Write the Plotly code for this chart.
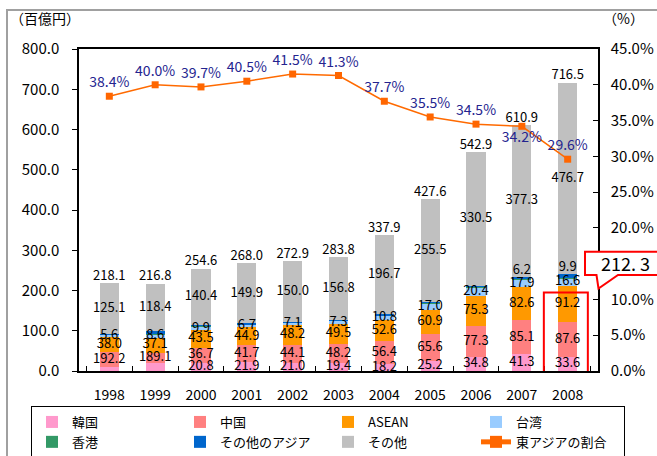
import plotly.graph_objects as go

years = ["1998", "1999", "2000", "2001", "2002", "2003", "2004", "2005", "2006", "2007", "2008"]
korea = [10.0, 20.6, 20.8, 21.9, 21.0, 19.4, 18.2, 25.2, 34.8, 41.3, 33.6]
china = [36.0, 24.9, 36.7, 41.7, 44.1, 48.2, 56.4, 65.6, 77.3, 85.1, 87.6]
asean = [38.0, 37.1, 43.5, 44.9, 48.2, 49.5, 52.6, 60.9, 75.3, 82.6, 91.2]
taiwan = [5.6, 8.6, 9.9, 6.7, 7.1, 7.3, 10.8, 17.0, 20.4, 17.9, 16.6]
hongkong = [0.9, 1.2, 1.0, 0.8, 0.7, 0.8, 1.0, 0.9, 2.0, 0.5, 0.9]
other_asia = [2.5, 6.0, 2.3, 2.1, 1.8, 1.8, 2.2, 2.5, 2.6, 6.2, 9.9]
other = [125.1, 118.4, 140.4, 149.9, 150.0, 156.8, 196.7, 255.5, 330.5, 377.3, 476.7]
totals = [218.1, 216.8, 254.6, 268.0, 272.9, 283.8, 337.9, 427.6, 542.9, 610.9, 716.5]
share_pct = [38.4, 40.0, 39.7, 40.5, 41.5, 41.3, 37.7, 35.5, 34.5, 34.2, 29.6]

korea_labels = ["", "", "20.8", "21.9", "21.0", "19.4", "18.2", "25.2", "34.8", "41.3", "33.6"]
china_labels = ["192.2", "189.1", "36.7", "41.7", "44.1", "48.2", "56.4", "65.6", "77.3", "85.1", "87.6"]
asean_labels = ["38.0", "37.1", "43.5", "44.9", "48.2", "49.5", "52.6", "60.9", "75.3", "82.6", "91.2"]
taiwan_labels = ["5.6", "8.6", "9.9", "6.7", "7.1", "7.3", "10.8", "17.0", "20.4", "17.9", "16.6"]
other_asia_labels = ["", "", "", "", "", "", "", "", "", "6.2", "9.9"]
callout_text = "212. 3"

FONT = "Noto Sans CJK JP, Liberation Sans, sans-serif"
series = [
    ("韓国", korea, "#FF99CC"),
    ("中国", china, "#FF8080"),
    ("ASEAN", asean, "#FF9900"),
    ("台湾", taiwan, "#99CCFF"),
    ("香港", hongkong, "#339966"),
    ("その他のアジア", other_asia, "#0066CC"),
    ("その他", other, "#C0C0C0"),
]

fig = go.Figure()
for name, vals, col in series:
    fig.add_trace(go.Bar(x=years, y=vals, name=name, marker=dict(color=col, line=dict(width=0)),
                         hoverinfo="skip"))

# cumulative bases
bases = []
run = [0.0] * len(years)
for name, vals, col in series:
    bases.append(list(run))
    run = [r + v for r, v in zip(run, vals)]

def centers(i):
    return [b + v / 2 for b, v in zip(bases[i], series[i][1])]

label_sets = [
    (0, korea_labels),
    (1, china_labels),
    (2, asean_labels),
    (3, taiwan_labels),
    (6, [f"{v:.1f}" for v in other]),
]
for i, labs in label_sets:
    fig.add_trace(go.Scatter(x=years, y=centers(i), mode="text", text=labs,
                             textposition="middle center",
                             textfont=dict(family=FONT, size=13, color="black"),
                             showlegend=False, hoverinfo="skip"))

oa_top = [b + v for b, v in zip(bases[5], other_asia)]
fig.add_trace(go.Scatter(x=years, y=oa_top, mode="text", text=other_asia_labels,
                         textposition="top center",
                         textfont=dict(family=FONT, size=13, color="black"),
                         showlegend=False, hoverinfo="skip"))

fig.add_trace(go.Scatter(x=years, y=totals, mode="text", text=[f"{v:.1f}" for v in totals],
                         textposition="top center",
                         textfont=dict(family=FONT, size=13, color="black"),
                         showlegend=False, hoverinfo="skip"))

fig.add_trace(go.Scatter(x=years, y=share_pct, name="東アジアの割合", yaxis="y2",
                         mode="lines+markers+text",
                         line=dict(color="#FF6A00", width=1.5),
                         marker=dict(symbol="square", size=7, color="#FF6600"),
                         text=[f"{v:.1f}%" for v in share_pct],
                         textposition=["top center"] * 9 + ["bottom center", "top center"],
                         textfont=dict(family=FONT, size=14, color="#24248F"),
                         hoverinfo="skip"))

L, R, T, B = 79, 598, 49, 371
def px(x):
    return (x - L) / (R - L)
def py(y):
    return (B - y) / (B - T)

shapes = [
    dict(type="rect", xref="paper", yref="paper", x0=px(7), x1=px(662), y0=py(470), y1=py(10),
         line=dict(color="#A0A0A0", width=2), fillcolor="rgba(0,0,0,0)", layer="below"),
    dict(type="rect", xref="x", yref="y", x0=10 - 0.52, x1=10 + 0.44, y0=-6, y1=195,
         line=dict(color="#FF0000", width=2), fillcolor="rgba(0,0,0,0)"),
]
pts = [(585, 251.7), (662, 251.7), (662, 275), (618, 275), (598.5, 288.5), (596.5, 275), (585, 275)]
path = "M " + " L ".join(f"{px(x):.5f},{py(y):.5f}" for x, y in pts) + " Z"
shapes.append(dict(type="path", xref="paper", yref="paper", path=path,
                   line=dict(color="#FF0000", width=2), fillcolor="white"))

annotations = [
    dict(text="（百億円）", xref="paper", yref="paper", x=px(8), y=py(18), xanchor="left",
         yanchor="middle", showarrow=False, font=dict(family=FONT, size=14, color="black")),
    dict(text="（%）", xref="paper", yref="paper", x=px(646), y=py(18), xanchor="right",
         yanchor="middle", showarrow=False, font=dict(family=FONT, size=14, color="black")),
    dict(text=callout_text, xref="paper", yref="paper", x=px(625), y=py(263), xanchor="center",
         yanchor="middle", showarrow=False, font=dict(family=FONT, size=18, color="black")),
]

fig.update_layout(
    width=657, height=456,
    margin=dict(l=L, r=657 - R, t=T, b=456 - B, pad=0, autoexpand=False),
    paper_bgcolor="white", plot_bgcolor="white",
    barmode="stack", bargap=0.58,
    font=dict(family=FONT, size=14, color="black"),
    xaxis=dict(type="category", showline=True, linecolor="black", linewidth=2, mirror=True,
               ticks="inside", tickson="boundaries", ticklen=5, tickcolor="black",
               showgrid=False, tickfont=dict(size=14), ticklabelstandoff=10),
    yaxis=dict(range=[0, 800], dtick=100, tickformat=".1f", showline=True, linecolor="black",
               linewidth=1.5, ticks="outside", ticklen=5, tickcolor="black", showgrid=False,
               zeroline=False, tickfont=dict(size=15), ticklabelstandoff=10),
    yaxis2=dict(range=[0, 45], dtick=5, tickformat=".1f", ticksuffix="%", overlaying="y",
                side="right", showline=True, linecolor="black", linewidth=1.5, ticks="inside",
                ticklen=5, tickcolor="black", showgrid=False, zeroline=False,
                tickfont=dict(size=15), ticklabelstandoff=8),
    legend=dict(orientation="h", x=px(31), y=py(406), xanchor="left", yanchor="top",
                bordercolor="black", borderwidth=1, bgcolor="white", traceorder="normal",
                entrywidth=103, entrywidthmode="pixels", font=dict(family=FONT, size=13),
                itemsizing="constant", tracegroupgap=0),
    shapes=shapes, annotations=annotations,
)

fig.write_html("out.html", config={"displayModeBar": False},
               post_script="document.body.style.margin='0';document.body.style.padding='0';"
                           "document.body.style.overflow='hidden';")
